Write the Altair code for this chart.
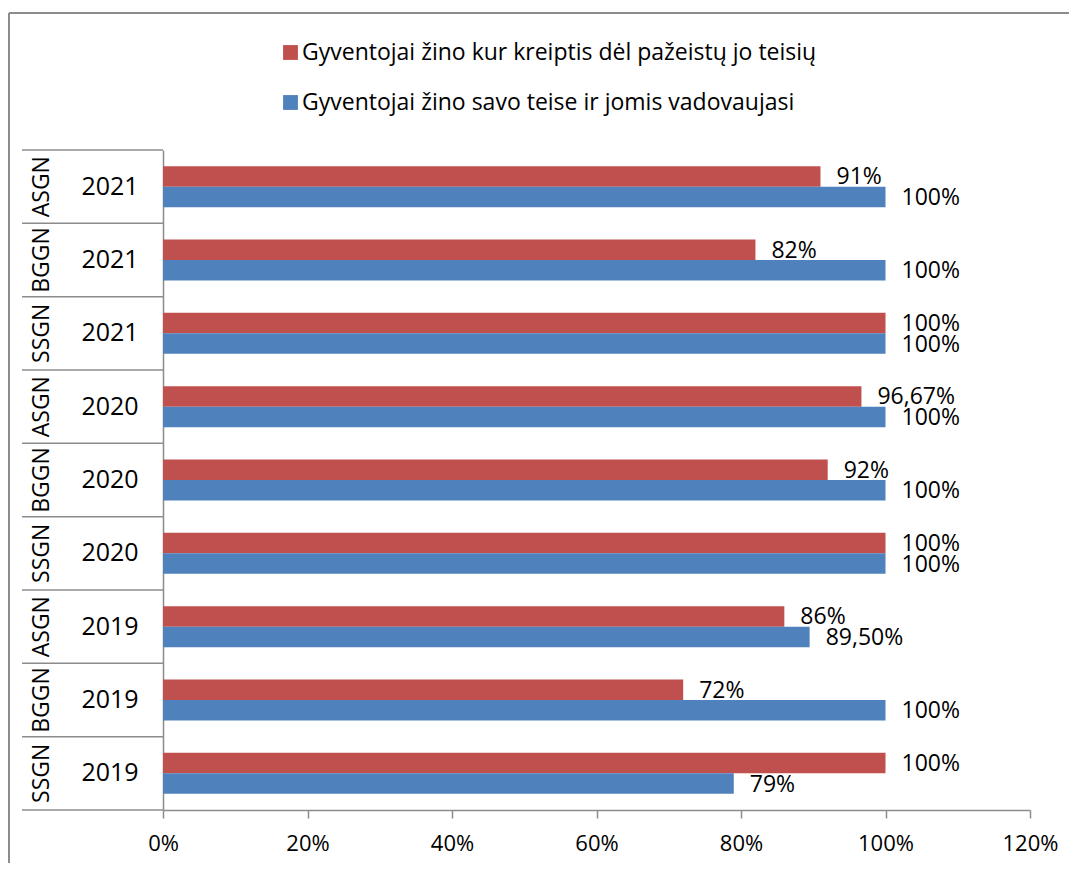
import altair as alt
import pandas as pd

groups = ["ASGN", "BGGN", "SSGN", "ASGN", "BGGN", "SSGN", "ASGN", "BGGN", "SSGN"]
years = ["2021", "2021", "2021", "2020", "2020", "2020", "2019", "2019", "2019"]
series_names = [
    "Gyventojai žino kur kreiptis dėl pažeistų jo teisių",
    "Gyventojai žino savo teise ir jomis vadovaujasi",
]
red_values = [91, 82, 100, 96.67, 92, 100, 86, 72, 100]
blue_values = [100, 100, 100, 100, 100, 100, 89.5, 100, 79]
red_labels = ["91%", "82%", "100%", "96,67%", "92%", "100%", "86%", "72%", "100%"]
blue_labels = ["100%", "100%", "100%", "100%", "100%", "100%", "89,50%", "100%", "79%"]
x_ticks = [0, 0.2, 0.4, 0.6, 0.8, 1.0, 1.2]
colors = ["#C0504D", "#4F81BD"]

keys = [f"{g} {y}" for g, y in zip(groups, years)]
rows = []
for i, k in enumerate(keys):
    rows.append({"key": k, "series": series_names[0], "value": red_values[i] / 100, "label": red_labels[i]})
    rows.append({"key": k, "series": series_names[1], "value": blue_values[i] / 100, "label": blue_labels[i]})
df = pd.DataFrame(rows)
cat_df = pd.DataFrame({"key": keys, "group": groups, "year": years})

FONT = "Open Sans"
GRAY = "#8c8c8c"

y_enc = alt.Y(
    "key:N",
    sort=keys,
    scale=alt.Scale(paddingInner=0, paddingOuter=0),
    axis=alt.Axis(
        labels=False,
        ticks=False,
        title=None,
        domainColor=GRAY,
        domainWidth=1.5,
    ),
)
x_enc = alt.X(
    "value:Q",
    scale=alt.Scale(domain=[0, 1.2]),
    axis=alt.Axis(
        format=".0%",
        values=x_ticks,
        grid=False,
        title=None,
        tickSize=8,
        tickColor=GRAY,
        tickWidth=1.5,
        domainColor=GRAY,
        domainWidth=1.5,
        labelFontSize=22,
        labelFont=FONT,
        labelColor="black",
        labelPadding=15,
        labelFlush=False,
    ),
)
yoff = alt.YOffset(
    "series:N", sort=series_names, scale=alt.Scale(paddingInner=0, paddingOuter=0.79)
)

bars = alt.Chart(df).mark_bar().encode(
    x=x_enc,
    y=y_enc,
    yOffset=yoff,
    color=alt.Color(
        "series:N",
        sort=series_names,
        scale=alt.Scale(domain=series_names, range=colors),
        legend=alt.Legend(
            title=None,
            orient="none",
            legendX=116,
            legendY=-109,
            direction="vertical",
            symbolType="square",
            symbolSize=220,
            symbolStrokeWidth=0,
            labelFontSize=23,
            labelFont=FONT,
            labelColor="black",
            labelLimit=800,
            rowPadding=26,
            labelOffset=0,
            padding=0,
        ),
    ),
)

labels = alt.Chart(df).mark_text(
    align="left", baseline="middle", dx=16, dy=1, fontSize=23, font=FONT, color="black"
).encode(x="value:Q", y=alt.Y("key:N", sort=keys), yOffset=yoff, text="label:N")

# table separators of the two-level category axis (at each band start)
separators = alt.Chart(cat_df).mark_rule(color=GRAY, strokeWidth=1.5).encode(
    y=alt.Y("key:N", sort=keys, bandPosition=0), x=alt.value(-141), x2=alt.value(0)
)
bottom_sep = alt.Chart(pd.DataFrame({"a": [0]})).mark_rule(color=GRAY, strokeWidth=1.5).encode(
    y=alt.value(660), x=alt.value(-141), x2=alt.value(0)
)

group_text = alt.Chart(cat_df).mark_text(
    angle=270, baseline="middle", align="center", fontSize=23, font=FONT, color="black"
).encode(y=alt.Y("key:N", sort=keys), x=alt.value(-121), text="group:N")

year_text = alt.Chart(cat_df).mark_text(
    baseline="middle", align="center", fontSize=25, font=FONT, color="black"
).encode(y=alt.Y("key:N", sort=keys), x=alt.value(-53), text="year:N")

frame_df = pd.DataFrame({"a": [0]})
frame_left = alt.Chart(frame_df).mark_rule(color=GRAY, strokeWidth=2).encode(
    x=alt.value(-154), y=alt.value(-137), y2=alt.value(760)
)
frame_top = alt.Chart(frame_df).mark_rule(color=GRAY, strokeWidth=2).encode(
    y=alt.value(-137), x=alt.value(-154), x2=alt.value(1000)
)

chart = (
    alt.layer(frame_left, frame_top, bars, labels, separators, bottom_sep, group_text, year_text)
    .properties(
        width=867,
        height=660,
        background="white",
        autosize=alt.AutoSizeParams(type="none"),
        padding={"left": 155, "top": 142, "right": 39, "bottom": 53},
    )
    .configure_view(stroke="transparent", strokeWidth=0)
)

chart.save("out.html", embed_options={"renderer": "svg", "actions": False})
